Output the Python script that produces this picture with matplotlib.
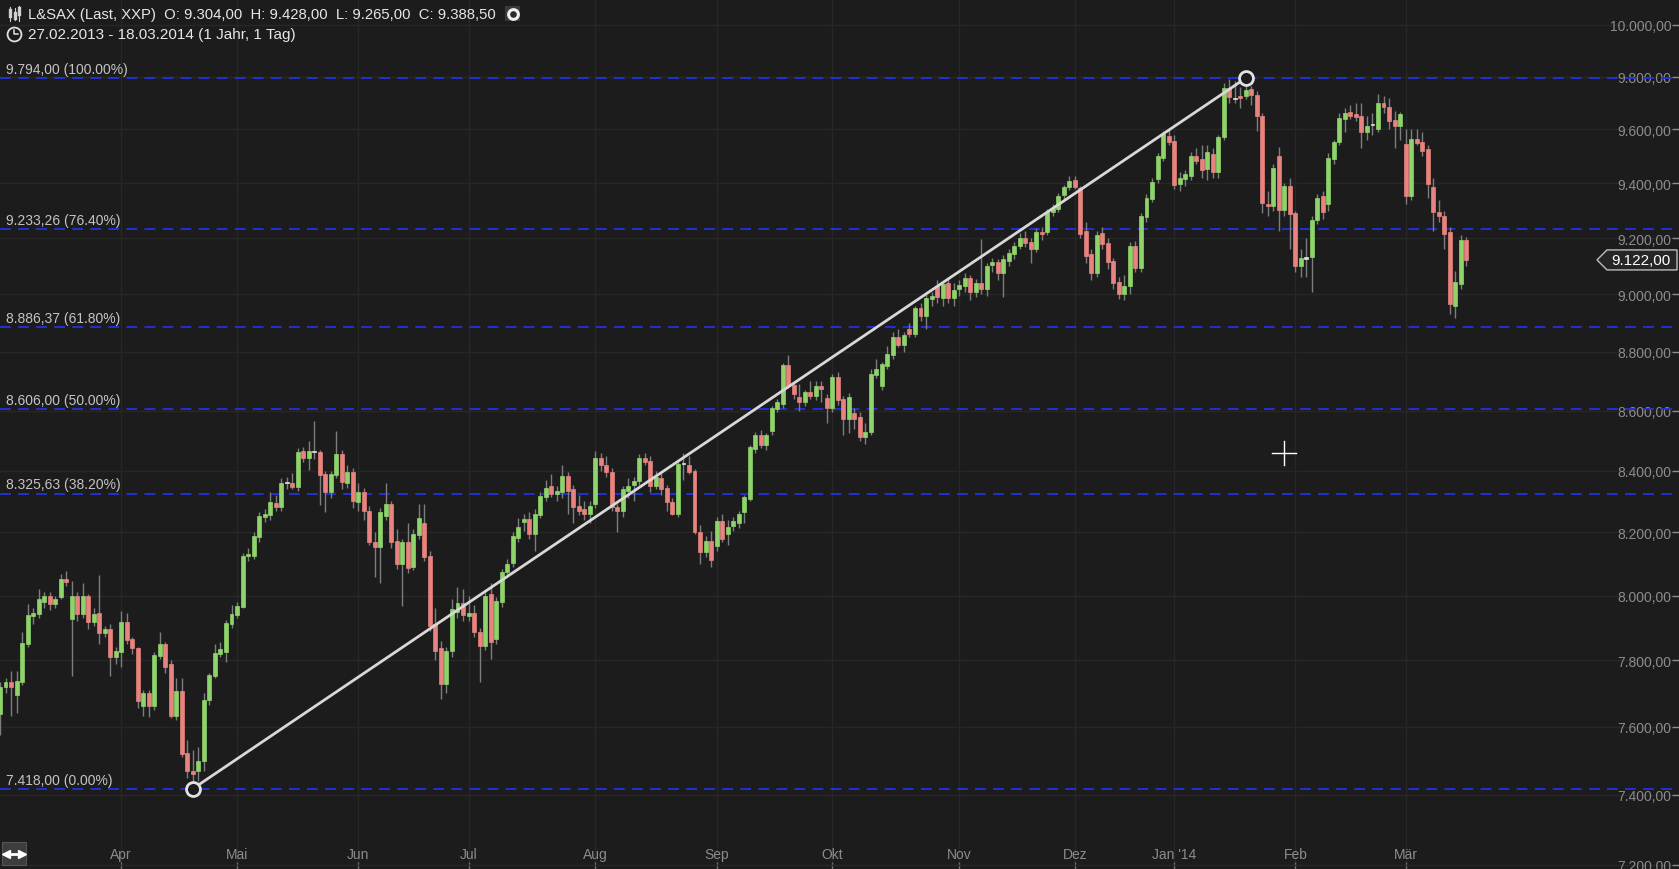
import numpy as np
import pandas as pd
import matplotlib
matplotlib.use("Agg")
import matplotlib.pyplot as plt
from matplotlib.lines import Line2D
from matplotlib.patches import Polygon, Rectangle
from matplotlib.ticker import FixedLocator, FuncFormatter, NullLocator, NullFormatter

plt.rcParams['font.family'] = ['Liberation Sans', 'DejaVu Sans']

# ---------------- data ----------------
start_date = '2013-02-27'
end_date = '2014-03-18'
holidays = ['2013-03-29', '2013-04-01', '2013-05-01', '2013-12-24',
            '2013-12-25', '2013-12-26', '2013-12-31', '2014-01-01']

opens = [
    7638, 7719, 7734, 7695, 7734, 7849, 7936, 7942, 7979, 7998,
    7973, 7995, 8052, 7926, 7998, 7942, 7998, 7917, 7945, 7883,
    7895, 7810, 7825, 7917, 7865, 7837, 7662, 7701, 7662, 7813,
    7849, 7789, 7632, 7707, 7522, 7470, 7470, 7499, 7680, 7752,
    7819, 7825, 7911, 7939, 7964, 8124, 8125, 8185, 8250, 8256,
    8295, 8282, 8360, 8359, 8346, 8465, 8442, 8463, 8462, 8389,
    8331, 8386, 8455, 8359, 8396, 8298, 8331, 8269, 8169, 8153,
    8253, 8292, 8173, 8100, 8169, 8090, 8192, 8230, 8124, 7911,
    7837, 7728, 7828, 7948, 7976, 7936, 7945, 7886, 7843, 8005,
    7865, 7979, 8074, 8103, 8182, 8233, 8243, 8195, 8256, 8314,
    8350, 8324, 8330, 8383, 8340, 8285, 8276, 8259, 8292, 8442,
    8419, 8396, 8282, 8269, 8334, 8353, 8366, 8442, 8432, 8350,
    8376, 8343, 8298, 8259, 8421, 8419, 8399, 8201, 8137, 8172,
    8156, 8237, 8195, 8221, 8230, 8266, 8308, 8472, 8518, 8485,
    8532, 8605, 8622, 8755, 8686, 8646, 8629, 8663, 8649, 8683,
    8642, 8609, 8714, 8639, 8572, 8592, 8579, 8512, 8528, 8721,
    8683, 8751, 8789, 8852, 8824, 8880, 8862, 8952, 8924, 8984,
    9030, 8988, 9040, 8988, 9020, 9029, 9058, 9008, 9040, 9020,
    9104, 9115, 9076, 9118, 9143, 9172, 9200, 9186, 9161, 9222,
    9222, 9295, 9306, 9356, 9386, 9412, 9382, 9226, 9143, 9076,
    9219, 9183, 9118, 9044, 9001, 9030, 9172, 9093, 9277, 9342,
    9416, 9493, 9576, 9556, 9397, 9416, 9427, 9501, 9490, 9453,
    9508, 9441, 9572, 9757, 9716, 9727, 9727, 9754, 9731, 9651,
    9324, 9316, 9501, 9302, 9390, 9291, 9100, 9128, 9132, 9266,
    9353, 9324, 9490, 9553, 9640, 9666, 9658, 9651, 9591, 9615,
    9602, 9700, 9685, 9636, 9613, 9546, 9353, 9564, 9553, 9527,
    9386, 9295, 9280, 9222, 8959, 9037, 9194]

highs = [
    7735, 7745, 7767, 7767, 7886, 7975, 7960, 8020, 8010, 8010,
    7998, 8068, 8078, 8045, 8010, 8040, 8005, 7960, 8065, 7905,
    7910, 7840, 7951, 7945, 7870, 7840, 7710, 7710, 7825, 7886,
    7855, 7800, 7745, 7745, 7560, 7530, 7540, 7700, 7760, 7850,
    7855, 7925, 7970, 7980, 8135, 8150, 8200, 8265, 8275, 8330,
    8320, 8377, 8380, 8393, 8475, 8478, 8498, 8565, 8470, 8400,
    8400, 8533, 8470, 8420, 8410, 8360, 8345, 8285, 8200, 8280,
    8359, 8300, 8210, 8180, 8230, 8210, 8290, 8292, 8140, 7960,
    7860, 7840, 7990, 8026, 8020, 8000, 7970, 7900, 8010, 8040,
    7995, 8085, 8115, 8200, 8245, 8260, 8265, 8275, 8330, 8370,
    8390, 8350, 8420, 8395, 8355, 8320, 8300, 8300, 8465, 8460,
    8450, 8410, 8290, 8350, 8375, 8380, 8455, 8460, 8450, 8400,
    8395, 8355, 8310, 8430, 8460, 8450, 8405, 8225, 8190, 8205,
    8250, 8260, 8240, 8250, 8270, 8320, 8485, 8530, 8535, 8525,
    8615, 8640, 8760, 8790, 8700, 8690, 8670, 8700, 8700, 8700,
    8655, 8725, 8730, 8650, 8660, 8610, 8595, 8560, 8740, 8775,
    8765, 8820, 8870, 8880, 8870, 8900, 8960, 8970, 9000, 9010,
    9050, 9045, 9060, 9040, 9050, 9075, 9070, 9055, 9197, 9110,
    9130, 9125, 9140, 9160, 9185, 9220, 9225, 9200, 9235, 9240,
    9305, 9325, 9365, 9395, 9425, 9425, 9390, 9260, 9160, 9225,
    9240, 9200, 9130, 9060, 9070, 9185, 9190, 9290, 9360, 9420,
    9510, 9595, 9600, 9580, 9440, 9450, 9515, 9530, 9540, 9540,
    9530, 9580, 9775, 9790, 9785, 9760, 9794, 9765, 9745, 9660,
    9370, 9470, 9535, 9400, 9420, 9300, 9160, 9200, 9280, 9360,
    9370, 9510, 9560, 9660, 9680, 9690, 9700, 9700, 9650, 9660,
    9735, 9725, 9720, 9670, 9665, 9600, 9600, 9600, 9590, 9540,
    9420, 9340, 9300, 9240, 9083, 9210, 9205]

lows = [
    7575, 7700, 7632, 7640, 7725, 7840, 7910, 7930, 7960, 7955,
    7960, 7990, 8030, 7752, 7920, 7930, 7895, 7905, 7849, 7870,
    7752, 7790, 7780, 7850, 7820, 7655, 7632, 7630, 7650, 7805,
    7760, 7625, 7620, 7510, 7450, 7418, 7440, 7470, 7665, 7745,
    7810, 7795, 7900, 7930, 7960, 8110, 8115, 8170, 8235, 8240,
    8270, 8270, 8340, 8340, 8335, 8430, 8402, 8440, 8287, 8267,
    8310, 8375, 8340, 8345, 8280, 8270, 8240, 8160, 8058, 8040,
    8240, 8150, 8085, 7967, 8070, 8080, 8180, 8110, 7890, 7800,
    7683, 7700, 7810, 7930, 7920, 7920, 7870, 7734, 7830, 7804,
    7850, 7965, 8060, 8090, 8170, 8205, 8180, 8140, 8245, 8300,
    8315, 8300, 8310, 8260, 8230, 8255, 8240, 8230, 8280, 8400,
    8380, 8270, 8200, 8250, 8310, 8300, 8355, 8420, 8330, 8340,
    8320, 8270, 8255, 8250, 8370, 8390, 8195, 8100, 8120, 8090,
    8140, 8170, 8160, 8205, 8215, 8230, 8300, 8460, 8475, 8470,
    8520, 8595, 8610, 8675, 8640, 8600, 8615, 8640, 8635, 8630,
    8560, 8595, 8620, 8520, 8525, 8540, 8500, 8490, 8520, 8710,
    8670, 8740, 8775, 8815, 8800, 8850, 8850, 8905, 8880, 8960,
    8970, 8960, 8970, 8960, 8995, 9010, 8980, 8990, 9000, 8995,
    9080, 9050, 8990, 9100, 9125, 9160, 9170, 9110, 9150, 9195,
    9210, 9280, 9295, 9340, 9375, 9380, 9200, 9110, 9050, 9060,
    9160, 9090, 9020, 8985, 8980, 9000, 9080, 9080, 9260, 9330,
    9400, 9480, 9540, 9380, 9370, 9390, 9410, 9470, 9420, 9410,
    9420, 9420, 9560, 9700, 9700, 9680, 9715, 9690, 9595, 9290,
    9280, 9300, 9226, 9280, 9161, 9080, 9060, 9060, 9008, 9250,
    9270, 9300, 9470, 9540, 9590, 9640, 9630, 9530, 9560, 9580,
    9590, 9660, 9600, 9530, 9560, 9324, 9340, 9540, 9500, 9345,
    9226, 9260, 9160, 8932, 8918, 9020, 9100]

closes = [
    7719, 7734, 7719, 7737, 7852, 7939, 7945, 7989, 7998, 7973,
    7989, 8052, 8042, 7998, 7942, 7998, 7917, 7942, 7883, 7895,
    7810, 7828, 7917, 7862, 7837, 7677, 7701, 7662, 7816, 7849,
    7780, 7632, 7707, 7519, 7470, 7461, 7499, 7680, 7755, 7822,
    7834, 7914, 7942, 7967, 8125, 8131, 8188, 8253, 8259, 8298,
    8282, 8359, 8362, 8346, 8462, 8442, 8465, 8462, 8386, 8331,
    8389, 8455, 8363, 8396, 8302, 8331, 8269, 8169, 8153, 8266,
    8292, 8169, 8100, 8169, 8087, 8195, 8246, 8121, 7905, 7828,
    7728, 7828, 7958, 7976, 7939, 7945, 7886, 7843, 7998, 7855,
    7983, 8074, 8100, 8188, 8217, 8243, 8195, 8259, 8318, 8343,
    8324, 8334, 8383, 8334, 8282, 8269, 8259, 8285, 8442, 8419,
    8396, 8282, 8269, 8340, 8350, 8366, 8442, 8429, 8350, 8379,
    8340, 8298, 8259, 8422, 8423, 8396, 8201, 8137, 8172, 8112,
    8237, 8179, 8217, 8237, 8259, 8314, 8478, 8518, 8485, 8518,
    8609, 8629, 8755, 8683, 8656, 8629, 8663, 8649, 8683, 8673,
    8609, 8714, 8636, 8572, 8646, 8572, 8512, 8528, 8724, 8741,
    8758, 8792, 8852, 8824, 8859, 8862, 8952, 8924, 8988, 8995,
    8991, 9037, 8988, 9015, 9034, 9058, 9008, 9040, 9020, 9101,
    9115, 9076, 9126, 9147, 9172, 9200, 9182, 9161, 9222, 9215,
    9295, 9310, 9353, 9386, 9408, 9386, 9215, 9136, 9076, 9212,
    9179, 9114, 9040, 9001, 9030, 9172, 9093, 9280, 9346, 9404,
    9500, 9583, 9553, 9394, 9419, 9434, 9501, 9482, 9449, 9516,
    9441, 9572, 9757, 9723, 9715, 9719, 9750, 9731, 9651, 9327,
    9316, 9456, 9302, 9390, 9288, 9100, 9129, 9127, 9266, 9346,
    9295, 9493, 9553, 9643, 9662, 9651, 9647, 9591, 9613, 9616,
    9700, 9685, 9632, 9613, 9658, 9353, 9564, 9549, 9520, 9397,
    9295, 9280, 9215, 8966, 9044, 9194, 9122]

month_names = ['Jan', 'Feb', 'Mär', 'Apr', 'Mai', 'Jun',
               'Jul', 'Aug', 'Sep', 'Okt', 'Nov', 'Dez']
price_ticks = [7200, 7400, 7600, 7800, 8000, 8200, 8400, 8600,
               8800, 9000, 9200, 9400, 9600, 9800, 10000]

fib_low = 7418.0
fib_high = 9794.0
fib_ratios = [0.0, 0.382, 0.5, 0.618, 0.764, 1.0]
trend_start = '2013-04-19'
trend_end = '2014-01-21'

header1 = 'L&SAX (Last, XXP)  O: 9.304,00  H: 9.428,00  L: 9.265,00  C: 9.388,50'
header2 = '27.02.2013 - 18.03.2014 (1 Jahr, 1 Tag)'

# ---------------- style ----------------
W, H = 1679, 870
BG = '#1c1c1c'
GRID = '#272727'
GREEN = '#8fd46b'
RED = '#e8837f'
WICK = '#7d7d7d'
FIB = '#2233dd'
TXT = '#8c8c8c'


def fmt_de(v):
    s = f"{v:,.2f}"
    return s.replace(',', 'X').replace('.', ',').replace('X', '.')


def fx(px):
    return px / W


def fy(py):
    return 1 - py / H


fig = plt.figure(figsize=(W / 100, H / 100), dpi=100, facecolor=BG)
ax = fig.add_axes([0, 0, 1, 1], facecolor=BG)

n = min(len(opens), len(highs), len(lows), len(closes))
O = np.array(opens[:n], float)
Hh = np.array(highs[:n], float)
L = np.array(lows[:n], float)
C = np.array(closes[:n], float)
Hh = np.maximum(Hh, np.maximum(O, C))
L = np.minimum(L, np.minimum(O, C))
x = np.arange(n)

dates = pd.bdate_range(start_date, end_date)
dates = dates[~dates.isin(pd.to_datetime(holidays))][:n]

# ---------------- axes / scales ----------------
ax.set_yscale('log')
ax.set_ylim(7188.6, 10102)
ax.set_xlim(0, W / 5.512)
for s in ax.spines.values():
    s.set_visible(False)

ax.yaxis.tick_right()
ax.yaxis.set_major_locator(FixedLocator(price_ticks))
ax.yaxis.set_minor_locator(NullLocator())
ax.yaxis.set_major_formatter(FuncFormatter(lambda v, p: fmt_de(v)))
ax.yaxis.set_minor_formatter(NullFormatter())
ax.tick_params(axis='y', which='major', direction='in', length=5, width=1,
               color=TXT, pad=-5.5, labelsize=10, labelcolor=TXT)

# month starts (the first, partial month sits under the corner button)
month_pos = [i for i in range(5, len(dates)) if dates[i].month != dates[i - 1].month]
month_lab = [(f"Jan '{dates[i].strftime('%y')}" if dates[i].month == 1
              else month_names[dates[i].month - 1]) for i in month_pos]
ax.set_xticks(month_pos)
ax.set_xticklabels(month_lab)
ax.tick_params(axis='x', direction='in', length=5, width=1, color='#6e6e6e',
               pad=-15.5, labelsize=10, labelcolor=TXT)
for t in ax.get_yticklabels():
    t.set_horizontalalignment('right')

ax.set_axisbelow(True)
ax.grid(True, which='major', color=GRID, lw=1)

# ---------------- fibonacci levels ----------------
for r in fib_ratios:
    v = fib_low + r * (fib_high - fib_low)
    ax.axhline(v, color=FIB, lw=1.3, dashes=(6, 4), zorder=2)
    ax.annotate(f"{fmt_de(v)} ({r * 100:.2f}%)", xy=(0, v),
                xycoords=ax.get_yaxis_transform(), xytext=(4.5, 6.5),
                textcoords='offset points', ha='left', va='center',
                fontsize=10, color='#c4c4c4', zorder=6)

# ---------------- candles ----------------
up = C >= O
flat = np.abs(C - O) <= 2
body_col = np.where(flat, '#e4e4e4', np.where(up, GREEN, RED))
ax.vlines(x, L, Hh, colors=WICK, linewidth=1.0, zorder=3)
ax.bar(x, np.maximum(np.abs(C - O), 4.0), bottom=np.minimum(O, C), width=0.72,
       color=body_col, edgecolor=body_col, linewidth=0.5, zorder=4)

# ---------------- trend line ----------------
i0 = dates.get_loc(pd.Timestamp(trend_start))
i1 = dates.get_loc(pd.Timestamp(trend_end))
ax.plot([i0, i1], [fib_low, fib_high], color='#d8d8d8', lw=2, zorder=5,
        solid_capstyle='round')
ax.plot([i0, i1], [fib_low, fib_high], ls='none', marker='o', ms=10,
        mfc=BG, mec='#e2e2e2', mew=2, zorder=6)

# ---------------- last price tag ----------------
yf = ax.transData.transform((0, C[-1]))[1] / H
tag = [(fx(1597), yf), (fx(1607), yf + 10 / H), (fx(1677), yf + 10 / H),
       (fx(1677), yf - 10 / H), (fx(1607), yf - 10 / H)]
fig.add_artist(Polygon(tag, closed=True, facecolor='#262626', edgecolor='#bdbdbd',
                       lw=1, transform=fig.transFigure, zorder=10))
fig.text(fx(1641), yf, fmt_de(C[-1]), ha='center', va='center', color='white',
         fontsize=11, zorder=11)

# ---------------- crosshair cursor ----------------
fig.add_artist(Line2D([fx(1272), fx(1296)], [fy(454), fy(454)], color='white', lw=1))
fig.add_artist(Line2D([fx(1284), fx(1284)], [fy(442), fy(466)], color='white', lw=1))

# ---------------- bottom-left button ----------------
fig.add_artist(Rectangle((fx(2), fy(866)), 24 / W, 23 / H, facecolor='#3d3d3d',
                         edgecolor='#555555', lw=0.8, transform=fig.transFigure, zorder=10))
fig.add_artist(Line2D([fx(7), fx(21)], [fy(854.5), fy(854.5)], color='white', lw=2,
                      zorder=11))
fig.add_artist(Line2D([fx(6)], [fy(854.5)], marker='<', ms=6, color='white',
                      ls='none', zorder=11))
fig.add_artist(Line2D([fx(22)], [fy(854.5)], marker='>', ms=6, color='white',
                      ls='none', zorder=11))

# ---------------- header ----------------
for cx, (yt, yb, bt, bb) in zip([10, 14.5, 19], [(8, 22, 11, 17), (9, 21, 14, 19), (7, 22, 9, 15)]):
    fig.add_artist(Line2D([fx(cx), fx(cx)], [fy(yt), fy(yb)], color='#d0d0d0', lw=0.8))
    fig.add_artist(Line2D([fx(cx), fx(cx)], [fy(bt), fy(bb)], color='#d0d0d0', lw=2.4))
fig.text(fx(28), fy(15), header1, ha='left', va='center', color='#e6e6e6', fontsize=10.7)
fig.add_artist(Rectangle((fx(505), fy(22)), 15 / W, 15 / H, facecolor='#3a3a3a',
                         edgecolor='none', transform=fig.transFigure))
fig.add_artist(Line2D([fx(512.5)], [fy(14.5)], marker='o', ms=7, mfc='#2a2a2a',
                      mec='#f0f0f0', mew=2.2, ls='none'))
fig.add_artist(Line2D([fx(14)], [fy(35)], marker='o', ms=10, mfc='none',
                      mec='#e0e0e0', mew=1.3, ls='none'))
fig.add_artist(Line2D([fx(14), fx(14), fx(17.5)], [fy(30.5), fy(35), fy(35)],
                      color='#e0e0e0', lw=1.1))
fig.text(fx(28), fy(35), header2, ha='left', va='center', color='#e6e6e6', fontsize=11)

fig.savefig('out.png', dpi=100, facecolor=BG)
